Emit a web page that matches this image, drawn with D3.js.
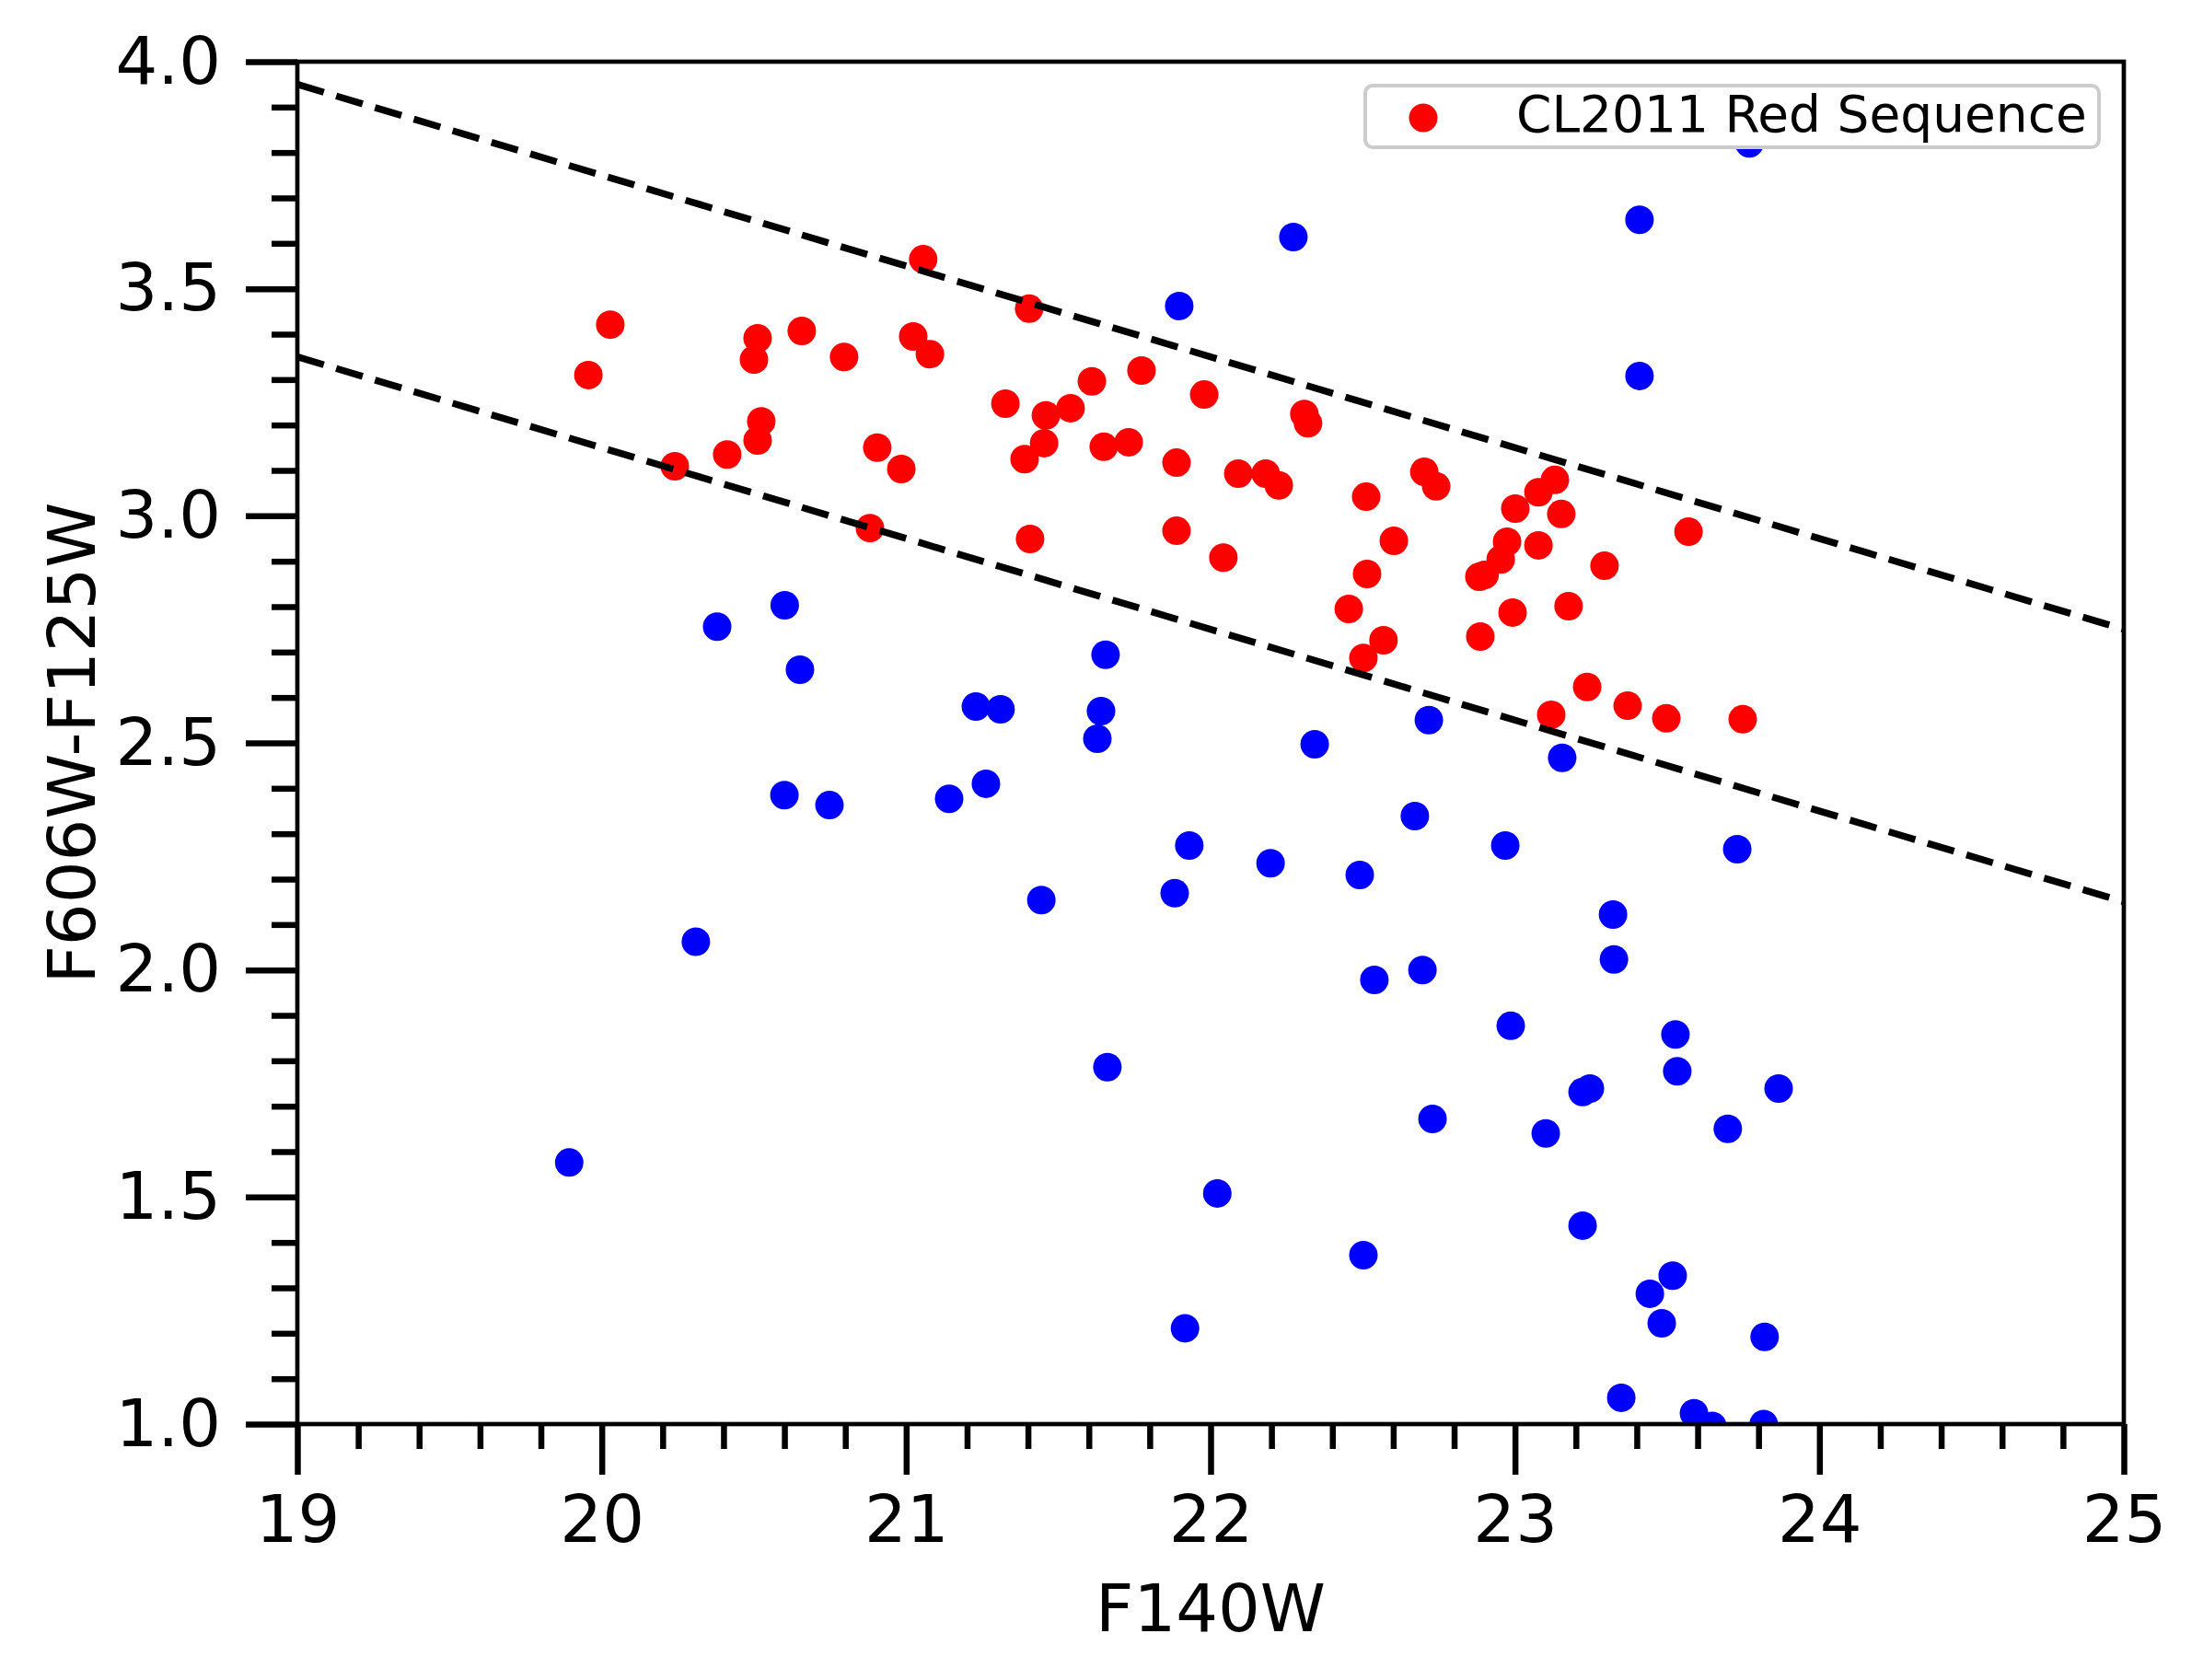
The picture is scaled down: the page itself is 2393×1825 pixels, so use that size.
<!DOCTYPE html>
<html>
<head>
<meta charset="utf-8">
<script src="https://cdn.jsdelivr.net/npm/d3@7"></script>
<style>
  body { margin: 0; background: #fff; }
  text { font-family: "DejaVu Sans", sans-serif; fill: #000; }
</style>
</head>
<body>
<div id="chart"></div>
<script>
// red sequence galaxies (CL2011)
var redF140W = [19.956, 20.028, 20.240, 20.412, 20.500, 20.512, 20.524, 20.512, 20.657, 20.796,
  20.905, 20.881, 20.984, 21.023, 21.056, 21.078, 21.326, 21.404, 21.389, 21.407,
  21.459, 21.453, 21.540, 21.610, 21.649, 21.731, 21.773, 21.888, 21.888, 21.979,
  22.042, 22.091, 22.181, 22.224, 22.308, 22.320, 22.454, 22.511, 22.514, 22.502,
  22.568, 22.602, 22.702, 22.741, 22.883, 22.900, 22.886, 22.953, 22.974, 23.001,
  22.992, 23.077, 23.131, 23.077, 23.152, 23.176, 23.294, 23.237, 23.119, 23.370,
  23.497, 23.570, 23.748];
var redColor = [3.310, 3.421, 3.109, 3.135, 3.344, 3.391, 3.208, 3.166, 3.407, 3.350,
  3.150, 2.973, 3.103, 3.395, 3.565, 3.356, 3.247, 3.456, 3.125, 2.949,
  3.221, 3.160, 3.237, 3.296, 3.152, 3.162, 3.320, 3.117, 2.967, 3.267,
  2.908, 3.093, 3.093, 3.067, 3.224, 3.204, 2.795, 3.042, 2.872, 2.687,
  2.726, 2.945, 3.097, 3.065, 2.866, 2.870, 2.734, 2.904, 2.943, 3.016,
  2.787, 3.052, 3.079, 2.935, 3.004, 2.801, 2.890, 2.623, 2.562, 2.582,
  2.554, 2.965, 2.552];

// everything else
var blueF140W = [19.893, 20.309, 20.379, 20.601, 20.651, 20.600, 20.748, 21.141, 21.229, 21.262,
  21.310, 21.444, 21.628, 21.640, 21.655, 21.661, 21.897, 21.882, 21.930, 21.916,
  22.022, 22.197, 22.272, 22.342, 22.490, 22.502, 22.538, 22.671, 22.696, 22.717,
  22.729, 22.968, 22.986, 23.101, 23.155, 23.222, 23.246, 23.222, 23.322, 23.325,
  23.349, 23.409, 23.409, 23.443, 23.482, 23.518, 23.527, 23.533, 23.588, 23.648,
  23.699, 23.730, 23.770, 23.820, 23.866, 23.817];
var blueColor = [1.576, 2.062, 2.756, 2.803, 2.661, 2.385, 2.363, 2.377, 2.580, 2.410,
  2.574, 2.154, 2.509, 2.570, 2.694, 1.786, 3.462, 2.169, 2.274, 1.211,
  1.508, 2.235, 3.614, 2.497, 2.209, 1.372, 1.978, 2.339, 2.000, 2.550,
  1.672, 2.274, 1.877, 1.640, 2.467, 1.731, 1.739, 1.437, 2.122, 2.023,
  1.058, 3.652, 3.308, 1.287, 1.222, 1.327, 1.858, 1.777, 1.024, 0.996,
  1.650, 2.266, 3.820, 1.192, 1.739, 1.000];

// red sequence boundaries
var lineX = [19, 25];
var upperY = [3.95, 2.75];
var lowerY = [3.35, 2.15];

var xTicks = [19, 20, 21, 22, 23, 24, 25];
var xMinor = d3.range(19, 25.001, 0.2).filter(v => Math.abs(v - Math.round(v)) > 0.01);
var yTicks = [1.0, 1.5, 2.0, 2.5, 3.0, 3.5, 4.0];
var yMinor = d3.range(1.0, 4.001, 0.1).filter(v => Math.abs(v * 2 - Math.round(v * 2)) > 0.01);

var svgWidth = 2393;
var svgHeight = 1825;
var margin = {top: 67, right: 86, bottom: 278, left: 323};
var width = svgWidth - margin.left - margin.right;
var height = svgHeight - margin.top - margin.bottom;

var svg = d3.select("#chart").append("svg")
  .attr("width", svgWidth)
  .attr("height", svgHeight)
  .style("background", "#fff");

var chartGroup = svg.append("g")
  .attr("transform", `translate(${margin.left}, ${margin.top})`);

svg.append("defs").append("clipPath").attr("id", "plotClip")
  .append("rect").attr("width", width).attr("height", height);

var xScale = d3.scaleLinear().domain([19, 25]).range([0, width]);
var yScale = d3.scaleLinear().domain([1, 4]).range([height, 0]);

// points
var plot = chartGroup.append("g").attr("clip-path", "url(#plotClip)");

plot.append("g").selectAll("circle")
  .data(blueF140W.map((x, i) => [x, blueColor[i]]))
  .enter().append("circle")
  .attr("cx", d => xScale(d[0]))
  .attr("cy", d => yScale(d[1]))
  .attr("r", 15.5)
  .attr("fill", "#0000ff");

plot.append("g").selectAll("circle")
  .data(redF140W.map((x, i) => [x, redColor[i]]))
  .enter().append("circle")
  .attr("cx", d => xScale(d[0]))
  .attr("cy", d => yScale(d[1]))
  .attr("r", 15.5)
  .attr("fill", "#ff0000");

// dashed lines
var line = d3.line().x(d => xScale(d[0])).y(d => yScale(d[1]));
[upperY, lowerY].forEach(function(ys) {
  plot.append("path")
    .datum(lineX.map((x, i) => [x, ys[i]]))
    .attr("d", line)
    .attr("fill", "none")
    .attr("stroke", "#000")
    .attr("stroke-width", 7.5)
    .attr("stroke-dasharray", "30 14");
});

// axes
function styleAxis(g, w) {
  g.select(".domain").remove();
  g.selectAll(".tick line").attr("stroke", "#000").attr("stroke-width", w);
  g.selectAll(".tick text").attr("font-size", 72).attr("font-family", "DejaVu Sans");
}

chartGroup.append("g")
  .attr("transform", `translate(0, ${height})`)
  .call(d3.axisBottom(xScale).tickValues(xMinor).tickSize(27).tickFormat(""))
  .call(g => styleAxis(g, 6.5));

chartGroup.append("g")
  .attr("transform", `translate(0, ${height})`)
  .call(d3.axisBottom(xScale).tickValues(xTicks).tickSize(55).tickPadding(22).tickFormat(d3.format("d")))
  .call(g => styleAxis(g, 6.5));

chartGroup.append("g")
  .call(d3.axisLeft(yScale).tickValues(yMinor).tickSize(28).tickFormat(""))
  .call(g => styleAxis(g, 6.5));

chartGroup.append("g")
  .call(d3.axisLeft(yScale).tickValues(yTicks).tickSize(56).tickPadding(27).tickFormat(d3.format(".1f")))
  .call(g => styleAxis(g, 6.5));

// frame
chartGroup.append("rect")
  .attr("width", width)
  .attr("height", height)
  .attr("fill", "none")
  .attr("stroke", "#000")
  .attr("stroke-width", 4.7);

// axis labels
svg.append("text")
  .attr("x", margin.left + width / 2)
  .attr("y", 1772)
  .attr("text-anchor", "middle")
  .attr("font-size", 72)
  .text("F140W");

svg.append("text")
  .attr("transform", `translate(103, ${margin.top + height / 2}) rotate(-90)`)
  .attr("text-anchor", "middle")
  .attr("font-size", 72)
  .text("F606W-F125W");

// legend
var legend = svg.append("g");
legend.append("rect")
  .attr("x", 1483).attr("y", 93)
  .attr("width", 797).attr("height", 67)
  .attr("rx", 8)
  .attr("fill", "#fff")
  .attr("stroke", "#cccccc").attr("stroke-width", 4);
legend.append("circle")
  .attr("cx", 1546).attr("cy", 128).attr("r", 15.5)
  .attr("fill", "#ff0000");
legend.append("text")
  .attr("x", 1647).attr("y", 143)
  .attr("font-size", 55)
  .text("CL2011 Red Sequence");
</script>
</body>
</html>
